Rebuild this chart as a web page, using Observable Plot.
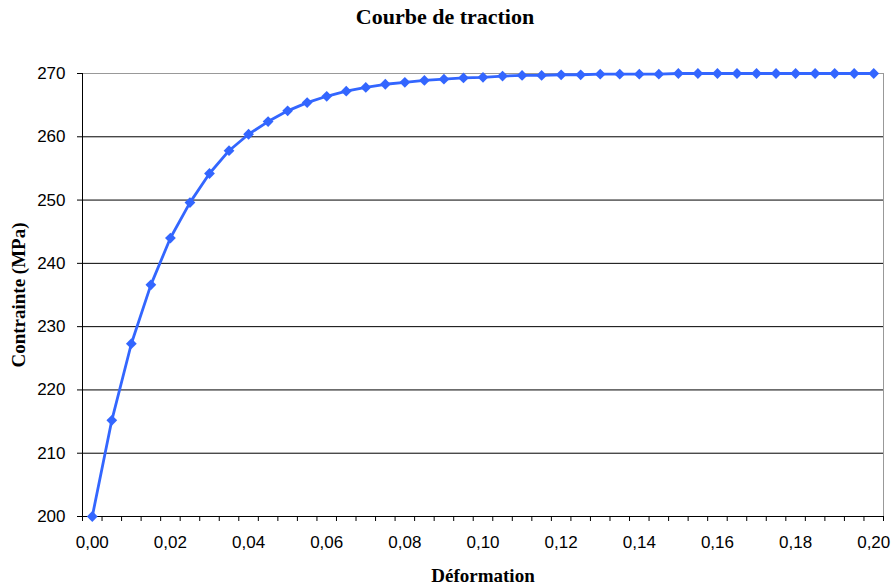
<!DOCTYPE html>
<html>
<head>
<meta charset="utf-8">
<script src="https://cdn.jsdelivr.net/npm/d3@7"></script>
<script src="https://cdn.jsdelivr.net/npm/@observablehq/plot@0.6"></script>
<style>
  html, body { margin: 0; padding: 0; background: #fff; }
  #wrap { position: relative; width: 896px; height: 586px; }
  #title { position: absolute; left: 0; top: 4px; width: 890px; text-align: center;
           font: bold 22px "Liberation Serif", serif; color: #000; }
</style>
</head>
<body>
<div id="wrap">
  <div id="title">Courbe de traction</div>
  <div id="chart"></div>
</div>
<script>
// Data
const deformation = [0.000,0.005,0.010,0.015,0.020,0.025,0.030,0.035,0.040,0.045,
  0.050,0.055,0.060,0.065,0.070,0.075,0.080,0.085,0.090,0.095,
  0.100,0.105,0.110,0.115,0.120,0.125,0.130,0.135,0.140,0.145,
  0.150,0.155,0.160,0.165,0.170,0.175,0.180,0.185,0.190,0.195,0.200];
const contrainte = [200.0,215.2,227.3,236.6,244.0,249.6,254.2,257.8,260.4,262.4,
  264.1,265.4,266.4,267.2,267.8,268.3,268.6,268.9,269.1,269.3,
  269.4,269.6,269.7,269.7,269.8,269.8,269.9,269.9,269.9,269.9,
  270.0,270.0,270.0,270.0,270.0,270.0,270.0,270.0,270.0,270.0,270.0];
const xTickLabels = [0.00,0.02,0.04,0.06,0.08,0.10,0.12,0.14,0.16,0.18,0.20];
const yTickLabels = [200,210,220,230,240,250,260,270];

const data = deformation.map((d, i) => ({x: d, y: contrainte[i]}));
const step = deformation[1] - deformation[0];
const xMin = deformation[0] - step / 2;
const xMax = deformation[deformation.length - 1] + step / 2;
const boundaries = deformation.map(d => d - step / 2).concat([xMax]);
const fr = v => d3.format(".2f")(v).replace(".", ",");
const blue = "#3366ff";

const chart = Plot.plot({
  width: 896,
  height: 586,
  marginTop: 73,
  marginBottom: 70,
  marginLeft: 82,
  marginRight: 13,
  style: {fontFamily: "'Liberation Sans', Arial, sans-serif", fontSize: "17px", color: "#000", background: "transparent"},
  x: {domain: [xMin, xMax]},
  y: {domain: [200, 270]},
  marks: [
    Plot.ruleY(yTickLabels.slice(1, -1), {stroke: "#000", strokeWidth: 1}),
    Plot.ruleY([270], {stroke: "#999", strokeWidth: 1}),
    Plot.ruleX([xMax], {stroke: "#999", strokeWidth: 1}),
    Plot.axisY({ticks: yTickLabels, tickSize: 5, tickPadding: 12, stroke: "#000", label: null, tickFormat: d => d}),
    Plot.axisX({ticks: boundaries, tickSize: 5, tickFormat: () => "", stroke: "#000", label: null}),
    Plot.axisX({ticks: xTickLabels, tickSize: 0, tickPadding: 19, tickFormat: fr, label: null}),
    Plot.ruleX([xMin], {stroke: "#000", strokeWidth: 1}),
    Plot.ruleY([200], {stroke: "#000", strokeWidth: 1}),
    Plot.line(data, {x: "x", y: "y", stroke: blue, strokeWidth: 2.8}),
    Plot.dot(data, {x: "x", y: "y", symbol: "square", r: 4.3, rotate: 45, fill: blue, stroke: null}),
    Plot.text(["Contrainte (MPa)"], {frameAnchor: "left", dx: -64, rotate: -90, text: d => d,
      textAnchor: "middle", lineAnchor: "middle",
      fontFamily: "'Liberation Serif', serif", fontWeight: "bold", fontSize: 19, fill: "#000"}),
    Plot.text(["Déformation"], {frameAnchor: "bottom", dy: 59, text: d => d,
      textAnchor: "middle", lineAnchor: "middle",
      fontFamily: "'Liberation Serif', serif", fontWeight: "bold", fontSize: 19, fill: "#000"})
  ]
});
document.getElementById("chart").appendChild(chart);
</script>
</body>
</html>
